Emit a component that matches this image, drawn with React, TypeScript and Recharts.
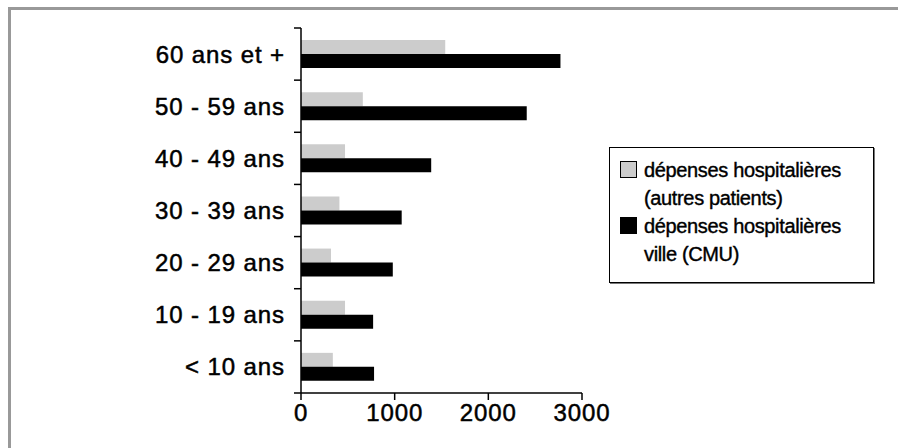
import React from "react";
import { BarChart, Bar, XAxis, YAxis, Legend } from "recharts";

const ageGroups = ["60 ans et +", "50 - 59 ans", "40 - 49 ans", "30 - 39 ans", "20 - 29 ans", "10 - 19 ans", "< 10 ans"];
const autresPatients = [1540, 660, 470, 410, 320, 470, 340];
const villeCMU = [2770, 2410, 1390, 1075, 980, 770, 780];
const xTicks = [0, 1000, 2000, 3000];

const seriesNames = {
  autres: ["dépenses hospitalières", "(autres patients)"],
  cmu: ["dépenses hospitalières", "ville (CMU)"],
};

const data = ageGroups.map((age, i) => ({ age, autres: autresPatients[i], cmu: villeCMU[i] }));

const FONT = "'Liberation Sans', Arial, Helvetica, sans-serif";

const YTick = (props: any) => {
  const { x, y, payload, index } = props;
  const off = payload && typeof payload.offset === "number" && payload.offset > 0 ? payload.offset : 26;
  return (
    <g>
      <text
        x={x - 16}
        y={y}
        textAnchor="end"
        dominantBaseline="central"
        fontSize={24}
        letterSpacing={0.9}
        fontFamily={FONT}
        fill="#000"
        stroke="#000"
        strokeWidth={0.5}
      >
        {payload.value}
      </text>
      <line x1={x - 7} x2={x} y1={y - off} y2={y - off} stroke="#000" strokeWidth={1.5} />
      {index === ageGroups.length - 1 && (
        <line x1={x - 7} x2={x} y1={y + off} y2={y + off} stroke="#000" strokeWidth={1.5} />
      )}
    </g>
  );
};

const XTick = (props: any) => {
  const { x, y, payload } = props;
  return (
    <text
      x={x}
      y={y}
      dy="0.71em"
      textAnchor="middle"
      fontSize={24}
      letterSpacing={0.9}
      fontFamily={FONT}
      fill="#000"
      stroke="#000"
      strokeWidth={0.5}
    >
      {payload.value}
    </text>
  );
};

const renderLegend = (props: any) => {
  const payload = props.payload || [];
  return (
    <div
      style={{
        width: 265,
        height: 136,
        boxSizing: "border-box",
        border: "1.5px solid #000",
        boxShadow: "1px 1px 0 #777",
        background: "#fff",
        padding: "8px 0 0 10px",
        fontFamily: FONT,
        fontSize: 20,
        letterSpacing: -0.35,
        color: "#000",
        WebkitTextStroke: "0.4px #000",
      }}
    >
      {payload.map((p: any) => {
        const lines = (seriesNames as any)[p.dataKey] || [p.value];
        return (
          <div key={p.dataKey} style={{ position: "relative", paddingLeft: 24, lineHeight: "28px" }}>
            <span
              style={{
                position: "absolute",
                left: 0,
                top: 5,
                width: 17,
                height: 17,
                boxSizing: "border-box",
                border: "1px solid #000",
                background: p.color,
              }}
            />
            {lines.map((l: string, k: number) => (
              <div key={k} style={{ whiteSpace: "nowrap" }}>
                {l}
              </div>
            ))}
          </div>
        );
      })}
    </div>
  );
};

export default function App() {
  return (
    <div style={{ position: "absolute", left: 0, top: 0, width: 898, height: 448, background: "#fff", overflow: "hidden" }}>
      <div style={{ position: "absolute", left: 8, top: 7, width: 890, height: 3, background: "#999" }} />
      <div style={{ position: "absolute", left: 8, top: 7, width: 3, height: 441, background: "#999" }} />
      <div style={{ position: "absolute", left: 0, top: 0 }}>
        <BarChart
          width={898}
          height={448}
          data={data}
          layout="vertical"
          margin={{ top: 28, right: 316, bottom: 0, left: 0 }}
          barSize={14}
          barGap={0}
        >
          <XAxis
            type="number"
            domain={[0, 3000]}
            ticks={xTicks}
            interval={0}
            height={55}
            tickSize={7}
            tickMargin={4}
            axisLine={{ stroke: "#000", strokeWidth: 1.5 }}
            tickLine={{ stroke: "#000", strokeWidth: 1.5 }}
            tick={<XTick />}
          />
          <XAxis
            xAxisId="top"
            orientation="top"
            type="number"
            domain={[0, 3000]}
            height={0}
            tick={false}
            tickLine={false}
            axisLine={{ stroke: "#000", strokeWidth: 1.5 }}
          />
          <YAxis
            type="category"
            dataKey="age"
            width={301}
            tickSize={0}
            tickMargin={0}
            tickLine={false}
            interval={0}
            axisLine={{ stroke: "#000", strokeWidth: 1.5 }}
            tick={<YTick />}
          />
          <YAxis
            yAxisId="right"
            orientation="right"
            type="category"
            dataKey="age"
            width={0}
            tick={false}
            tickLine={false}
            axisLine={{ stroke: "#000", strokeWidth: 1.5 }}
          />
          <Legend
            layout="vertical"
            align="center"
            verticalAlign="middle"
            content={renderLegend}
            wrapperStyle={{ left: 609, top: 147, width: 266 }}
          />
          <Bar dataKey="autres" name="dépenses hospitalières (autres patients)" fill="#cccccc" isAnimationActive={false} />
          <Bar dataKey="cmu" name="dépenses hospitalières ville (CMU)" fill="#000000" isAnimationActive={false} />
        </BarChart>
      </div>
    </div>
  );
}
